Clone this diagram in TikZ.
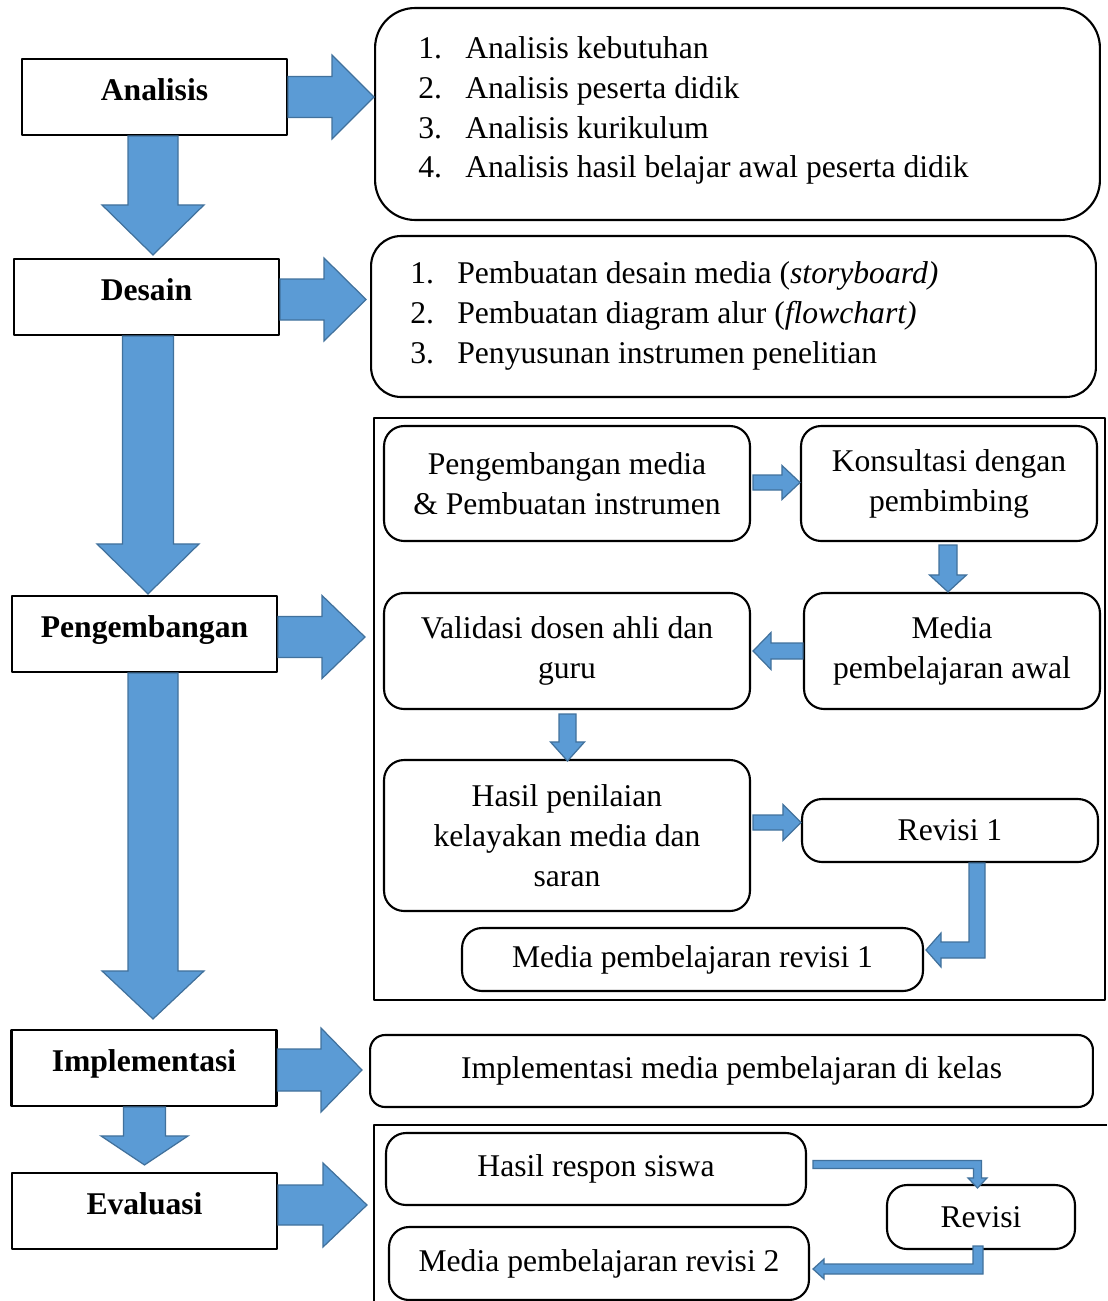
\documentclass[tikz,border=0pt]{standalone}
\usepackage{fontspec}
\setmainfont{Liberation Serif}
\usetikzlibrary{calc}
\definecolor{arrfill}{RGB}{91,155,213}
\definecolor{arrline}{RGB}{65,113,156}
\def\pxu{0.02cm}
% straight block arrow: start, tip, half shaft, half head, head length (px)
\newcommand{\blockarr}[5]{%
  \coordinate (hb) at ($(#2)!#5*\pxu!(#1)$);
  \path[blockarr] ($(#1)!#3*\pxu!90:(#2)$) -- ($(hb)!#3*\pxu!90:(#2)$) -- ($(hb)!#4*\pxu!90:(#2)$) -- (#2)
    -- ($(hb)!#4*\pxu!-90:(#2)$) -- ($(hb)!#3*\pxu!-90:(#2)$) -- ($(#1)!#3*\pxu!-90:(#2)$) -- cycle;}
% bent arrow, down then left
\newcommand{\bentdl}[5]{%
  \path[blockarr] let \p1=(#1), \p2=(#2) in
    (\x1-#3*\pxu,\y1) -- (\x1-#3*\pxu,\y2+#3*\pxu) -- (\x2+#5*\pxu,\y2+#3*\pxu) -- (\x2+#5*\pxu,\y2+#4*\pxu) -- (\p2)
    -- (\x2+#5*\pxu,\y2-#4*\pxu) -- (\x2+#5*\pxu,\y2-#3*\pxu) -- (\x1+#3*\pxu,\y2-#3*\pxu) -- (\x1+#3*\pxu,\y1) -- cycle;}
% bent arrow, right then down
\newcommand{\bentrd}[5]{%
  \path[blockarr] let \p1=(#1), \p2=(#2) in
    (\x1,\y1+#3*\pxu) -- (\x2+#3*\pxu,\y1+#3*\pxu) -- (\x2+#3*\pxu,\y2+#5*\pxu) -- (\x2+#4*\pxu,\y2+#5*\pxu) -- (\p2)
    -- (\x2-#4*\pxu,\y2+#5*\pxu) -- (\x2-#3*\pxu,\y2+#5*\pxu) -- (\x2-#3*\pxu,\y1-#3*\pxu) -- (\x1,\y1-#3*\pxu) -- cycle;}
\begin{document}
\begin{tikzpicture}[x=0.02cm, y=-0.02cm, line join=round, font=\fontsize{18}{22.7}\selectfont,
  stepbox/.style={draw, line width=1.2pt, minimum width=5.3cm, minimum height=1.52cm, text height=0.5cm, text depth=0.35cm, font=\fontsize{18}{22.7}\selectfont\bfseries},
  roundbox/.style={draw, line width=1.2pt, rounded corners=0.4cm, align=center, inner sep=0pt},
  blockarr/.style={fill=arrfill, draw=arrline, line width=0.7pt, line join=miter}]
	\useasboundingbox (0,0) rectangle (1107,1301);
	
	% tahapan
	\node[stepbox] (ana) at (154.5,97) {Analisis};
	\node[stepbox] (des) at (146.5,297) {Desain};
	\node[stepbox] (peng) at (144.5,634) {Pengembangan};
	\node[stepbox] (impl) at (144,1068) {Implementasi};
	\node[stepbox] (eval) at (144.5,1211) {Evaluasi};
	
	% analisis dan desain
	\node[roundbox, rounded corners=0.8cm, minimum width=14.5cm, minimum height=4.24cm] (box1) at (737.5,114) {};
	\node[anchor=west, align=left, inner sep=0pt] (list1) at (418,110.5) {\makebox[0.94cm][l]{1.}Analisis kebutuhan\\
		\makebox[0.94cm][l]{2.}Analisis peserta didik\\
		\makebox[0.94cm][l]{3.}Analisis kurikulum\\
		\makebox[0.94cm][l]{4.}Analisis hasil belajar awal peserta didik};
	\node[roundbox, rounded corners=0.6cm, minimum width=14.5cm, minimum height=3.22cm] (box2) at (733.5,316.5) {};
	\node[anchor=west, align=left, inner sep=0pt] (list2) at (410,316) {\makebox[0.94cm][l]{1.}Pembuatan desain media (\textit{storyboard)}\\
		\makebox[0.94cm][l]{2.}Pembuatan diagram alur (\textit{flowchart)}\\
		\makebox[0.94cm][l]{3.}Penyusunan instrumen penelitian};
	
	% pengembangan
	\node[draw, line width=1.2pt, minimum width=14.62cm, minimum height=11.64cm, inner sep=0pt] (dev) at (739.5,709) {};
	\node[roundbox, minimum width=7.32cm, minimum height=2.3cm] (pm) at (567,483.5) {Pengembangan media\\ \& Pembuatan instrumen};
	\node[roundbox, minimum width=5.92cm, minimum height=2.3cm] (kons) at (949,483.5) {Konsultasi dengan\\ pembimbing};
	\node[roundbox, minimum width=5.92cm, minimum height=2.32cm] (awal) at (952,651) {Media\\ pembelajaran awal};
	\node[roundbox, minimum width=7.32cm, minimum height=2.32cm] (val) at (567,651) {Validasi dosen ahli dan\\ guru};
	\node[roundbox, minimum width=7.32cm, minimum height=3.02cm] (nilai) at (567,835.5) {Hasil penilaian\\ kelayakan media dan\\ saran};
	\node[roundbox, minimum width=5.92cm, minimum height=1.26cm] (rev1) at (950,830.5) {Revisi 1};
	\node[roundbox, minimum width=9.22cm, minimum height=1.26cm] (med1) at (692.5,959.5) {Media pembelajaran revisi 1};
	
	% implementasi dan evaluasi
	\node[roundbox, rounded corners=0.3cm, minimum width=14.46cm, minimum height=1.44cm] (implbox) at (731.5,1071) {Implementasi media pembelajaran di kelas};
	\draw[line width=1.2pt] (1107,1125) -| (374,1301);
	\coordinate (evl) at (374,1205);
	\node[roundbox, minimum width=8.4cm, minimum height=1.44cm] (resp) at (596,1169) {Hasil respon siswa};
	\node[roundbox, minimum width=3.76cm, minimum height=1.28cm] (rev) at (981,1217) {Revisi};
	\node[roundbox, minimum width=8.4cm, minimum height=1.46cm] (med2) at (599,1263.5) {Media pembelajaran revisi 2};
	
	% panah ke bawah
	\coordinate (d1s) at ($(ana.south)+(-1.5,0)$);
	\coordinate (d1e) at ($(d1s |- des.north)+(0,-3)$);
	\blockarr{d1s}{d1e}{25}{51}{50}
	\coordinate (d2s) at ($(des.south)+(1.5,0)$);
	\coordinate (d2e) at ($(d2s |- peng.north)+(0,-1)$);
	\blockarr{d2s}{d2e}{25.5}{51}{50}
	\coordinate (d3s) at ($(peng.south)+(8.5,0)$);
	\coordinate (d3e) at ($(d3s |- impl.north)+(0,-10)$);
	\blockarr{d3s}{d3e}{25}{51}{48}
	\coordinate (d4s) at ($(impl.south)+(0.5,0)$);
	\coordinate (d4e) at ($(d4s |- eval.north)+(0,-7)$);
	\blockarr{d4s}{d4e}{21}{43.5}{29}
	
	% panah ke kanan
	\coordinate (r1s) at (ana.east);
	\coordinate (r1e) at (ana.east -| box1.west);
	\blockarr{r1s}{r1e}{20.5}{42}{42}
	\coordinate (r2s) at ($(des.east)+(0,2.5)$);
	\coordinate (r2e) at ($(r2s -| box2.west)+(-4,0)$);
	\blockarr{r2s}{r2e}{20.5}{41.5}{42}
	\coordinate (r3s) at ($(peng.east)+(0,3)$);
	\coordinate (r3e) at ($(r3s -| dev.west)+(-8,0)$);
	\blockarr{r3s}{r3e}{20.5}{41.5}{43}
	\coordinate (r4s) at ($(impl.east)+(0,2)$);
	\coordinate (r4e) at ($(r4s -| implbox.west)+(-7,0)$);
	\blockarr{r4s}{r4e}{21}{42}{41}
	\coordinate (r5s) at ($(eval.east)+(0,-6)$);
	\coordinate (r5e) at ($(r5s -| evl)+(-7,0)$);
	\blockarr{r5s}{r5e}{20}{42}{44}
	
	% panah kecil
	\coordinate (s1s) at ($(pm.east)+(2,-1)$);
	\coordinate (s1e) at (s1s -| kons.west);
	\blockarr{s1s}{s1e}{7.5}{17}{18}
	\coordinate (s2s) at ($(kons.south)+(-1,3)$);
	\coordinate (s2e) at (s2s |- awal.north);
	\blockarr{s2s}{s2e}{9}{18.5}{17}
	\coordinate (s3s) at (awal.west);
	\coordinate (s3e) at ($(val.east)+(2,0)$);
	\blockarr{s3s}{s3e}{8}{18.5}{18}
	\coordinate (s4s) at ($(val.south)+(0.5,4)$);
	\coordinate (s4e) at ($(s4s |- nilai.north)+(0,2)$);
	\blockarr{s4s}{s4e}{8.5}{17}{19}
	\coordinate (s5s) at ($(nilai.east)+(2,-13)$);
	\coordinate (s5e) at (s5s -| rev1.west);
	\blockarr{s5s}{s5e}{7.5}{18}{18}
	
	% panah siku
	\coordinate (b1s) at ($(rev1.south)+(27,0)$);
	\coordinate (b1e) at ($(med1.east)+(2,-9.5)$);
	\bentdl{b1s}{b1e}{8}{17}{15}
	\coordinate (b2s) at ($(resp.east)+(6,-4.5)$);
	\coordinate (b2e) at ($(rev.north)+(-3.5,4)$);
	\bentrd{b2s}{b2e}{4}{9.5}{10}
	\coordinate (b3s) at ($(rev.south)+(-3,-4)$);
	\coordinate (b3e) at ($(med2.east)+(3,5.5)$);
	\bentdl{b3s}{b3e}{5}{10}{11}
\end{tikzpicture}
\end{document}
